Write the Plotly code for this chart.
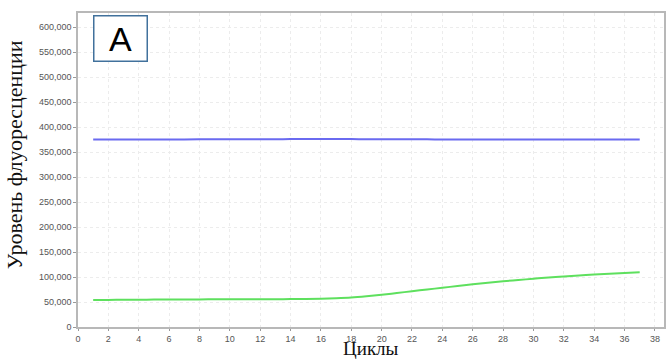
import plotly.graph_objects as go

cycles = list(range(1, 38))
blue_vals = [375000, 375000, 375000, 375000, 375000, 375000, 375200, 375300, 375300, 375400,
             375500, 375500, 375600, 375800, 376000, 376200, 376000, 375800, 375700, 375600,
             375500, 375400, 375300, 375200, 375100, 375000, 374900, 374800, 374900, 375000,
             375000, 374900, 375000, 375100, 375200, 375200, 375200]
green_vals = [54000, 54200, 54400, 54600, 54800, 55000, 55100, 55200, 55300, 55400,
              55500, 55600, 55700, 55800, 56000, 56500, 57500, 59000, 61500, 64500,
              68000, 71500, 75000, 78500, 82000, 85500, 88500, 91500, 94000, 96500,
              99000, 101000, 103000, 105000, 106500, 108000, 109500]

x_ticks = list(range(0, 39, 2))
y_ticks = list(range(0, 600001, 50000))
y_tick_text = ["0"] + [f"{v:,}" for v in y_ticks[1:]]

fig = go.Figure()
fig.add_trace(go.Scatter(x=cycles, y=blue_vals, mode="lines",
                         line=dict(color="#6a6af0", width=2, shape="spline"), showlegend=False))
fig.add_trace(go.Scatter(x=cycles, y=green_vals, mode="lines",
                         line=dict(color="#5ee05e", width=2, shape="spline"), showlegend=False))

tickfont = dict(family="Liberation Sans, Arial", size=9, color="#555555")
fig.update_layout(
    width=670, height=360,
    margin=dict(l=78, r=4, t=13, b=33),
    paper_bgcolor="white", plot_bgcolor="white",
    xaxis=dict(range=[0, 38.6], tickvals=x_ticks, ticks="outside", ticklen=2, tickcolor="#999999",
               tickfont=tickfont, showgrid=True, gridcolor="#ececec", griddash="dot", gridwidth=1,
               showline=True, linecolor="#b8b8b8", linewidth=1.5, mirror=True, zeroline=False),
    yaxis=dict(range=[0, 628000], tickvals=y_ticks, ticktext=y_tick_text, ticks="outside",
               ticklen=3, tickcolor="#999999", tickfont=tickfont, showgrid=True,
               gridcolor="#ececec", griddash="dot", gridwidth=1,
               showline=True, linecolor="#b8b8b8", linewidth=1.5, mirror=True, zeroline=False),
    annotations=[
        dict(text="Циклы", xref="paper", yref="paper", x=0.5, y=-0.105, xanchor="center",
             yanchor="bottom", showarrow=False, borderpad=0,
             font=dict(family="Liberation Serif, Times New Roman", size=19, color="#111111")),
        dict(text="Уровень флуоресценции", xref="paper", yref="paper", x=-0.107, y=0.548,
             xanchor="center", yanchor="middle", textangle=-90, showarrow=False,
             font=dict(family="Liberation Serif, Times New Roman", size=22, color="#111111")),
        dict(text="A", xref="paper", yref="paper", x=0.026, y=0.995, xanchor="left",
             yanchor="top", showarrow=False, width=50, height=42, bordercolor="#41719c",
             borderwidth=1.5, borderpad=1, bgcolor="white",
             font=dict(family="Liberation Sans, Arial", size=34, color="#000000")),
    ],
)
fig.write_html("out.html")
